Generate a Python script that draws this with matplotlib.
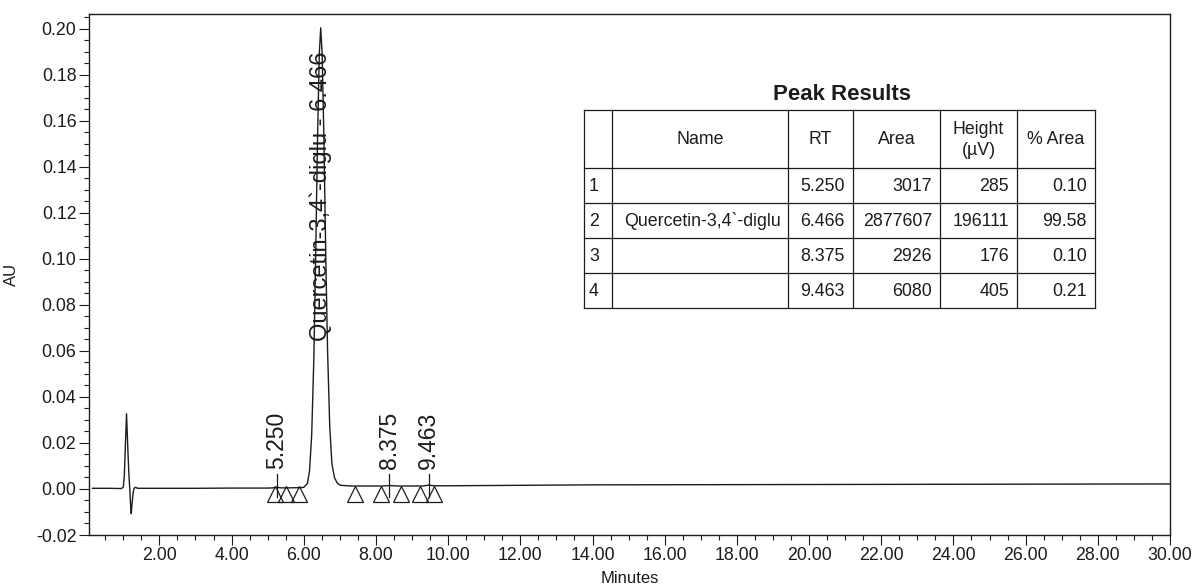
"""
Chromatogram (AU vs minutes) with the Peak Results table, redrawn from a scan.
"""
import matplotlib
matplotlib.use("Agg")
import matplotlib.pyplot as plt
from matplotlib.ticker import MultipleLocator, FuncFormatter

plt.rcParams["font.family"] = ["Liberation Sans", "DejaVu Sans"]

INK = "#1c1c1c"

# --- trace (minutes, AU) ---
trace_min = [0.15, 0.60, 0.95, 1.00, 1.03, 1.06, 1.09, 1.12, 1.15, 1.18,
             1.205, 1.22, 1.24, 1.27, 1.30, 1.34, 1.40, 2.00, 3.00, 4.00,
             5.00, 5.15, 5.25, 5.35, 5.60, 5.90, 6.00, 6.10, 6.16, 6.22,
             6.28, 6.33, 6.38, 6.43, 6.47, 6.51, 6.56, 6.61, 6.66, 6.72,
             6.78, 6.85, 6.93, 7.02, 7.30, 8.20, 8.375, 8.60, 9.30, 9.463,
             9.60, 10.0, 14.0, 18.0, 22.0, 26.0, 30.0]
trace_au = [0.0003, 0.0003, 0.0002, 0.0008, 0.0060, 0.0200, 0.0327, 0.0200, 0.0080, 0.0000,
            -0.0080, -0.0107, -0.0070, -0.0020, 0.0004, 0.0007, 0.0003, 0.0003, 0.0003, 0.0004,
            0.0004, 0.0005, 0.0008, 0.0005, 0.0005, 0.0006, 0.0007, 0.0024, 0.0078, 0.0235,
            0.0570, 0.1010, 0.1510, 0.1890, 0.2005, 0.1890, 0.1510, 0.1010, 0.0600, 0.0270,
            0.0110, 0.0050, 0.0025, 0.0016, 0.0013, 0.0013, 0.0015, 0.0013, 0.0013, 0.0017,
            0.0014, 0.0014, 0.0018, 0.0019, 0.0020, 0.0021, 0.0022]

# integration marks (peak start / end), drawn as open triangles
mark_start = [5.21, 5.88, 8.15, 9.21]
mark_end = [5.52, 7.42, 8.70, 9.62]

# peak labels
peak_rt = [5.250, 6.466, 8.375, 9.463]
peak_label = ["5.250", "Quercetin-3,4`-diglu - 6.466", "8.375", "9.463"]
peak_named = [False, True, False, False]

# Peak Results table
tbl_title = "Peak Results"
tbl_header = ["", "Name", "RT", "Area", "Height\n(µV)", "% Area"]
tbl_no = ["1", "2", "3", "4"]
tbl_name = ["", "Quercetin-3,4`-diglu", "", ""]
tbl_rt = ["5.250", "6.466", "8.375", "9.463"]
tbl_area = ["3017", "2877607", "2926", "6080"]
tbl_height = ["285", "196111", "176", "405"]
tbl_pct = ["0.10", "99.58", "0.10", "0.21"]

W, H = 1195, 588
fig = plt.figure(figsize=(W / 100, H / 100), dpi=100)
ax = fig.add_axes([89 / W, 1 - 535 / H, (1170 - 89) / W, (535 - 14) / H])

ax.plot(trace_min, trace_au, color=INK, lw=1.0, zorder=3)
marks = mark_start + mark_end
ax.plot(marks, [-0.00226] * len(marks), ls="none", marker="^", ms=11.5,
        mfc="none", mec=INK, mew=0.9, zorder=3)

for rt, lab, named in zip(peak_rt, peak_label, peak_named):
    if named:
        ax.text(rt, 0.0645, lab, rotation=90, ha="center", va="bottom",
                fontsize=17, color=INK, zorder=4)
    else:
        ax.plot([rt, rt], [-0.0036, 0.0066], color=INK, lw=0.9, zorder=3)
        ax.text(rt, 0.0086, lab, rotation=90, ha="center", va="bottom",
                fontsize=16.5, color=INK, zorder=4)

ax.set_xlim(0.05, 30.0)
ax.set_ylim(-0.02, 0.2065)
ax.xaxis.set_major_locator(MultipleLocator(2))
ax.xaxis.set_minor_locator(MultipleLocator(0.5))
ax.yaxis.set_major_locator(MultipleLocator(0.02))
ax.yaxis.set_minor_locator(MultipleLocator(0.005))
ax.xaxis.set_major_formatter(FuncFormatter(lambda v, p: f"{v:.2f}"))
ax.yaxis.set_major_formatter(FuncFormatter(lambda v, p: f"{v:.2f}"))
ax.tick_params(which="major", direction="out", length=7, width=0.8,
               color=INK, labelcolor=INK, labelsize=12.8, pad=2)
ax.tick_params(which="minor", direction="out", length=3.8, width=0.8, color=INK)
for sp in ax.spines.values():
    sp.set_color(INK)
    sp.set_linewidth(1.0)
ax.set_xlabel("Minutes", fontsize=12, color=INK, labelpad=5)
ax.set_ylabel("AU", fontsize=12, color=INK, labelpad=12)

# --- table, in figure pixel coordinates ---
tab = fig.add_axes([0, 0, 1, 1], zorder=5)
tab.set_xlim(0, W)
tab.set_ylim(H, 0)
tab.axis("off")
tab.patch.set_alpha(0)

col_x = [584, 612, 788, 853, 940, 1017, 1095]
row_y = [110, 168, 203, 238, 273, 308]
for x in col_x:
    tab.plot([x, x], [row_y[0], row_y[-1]], color=INK, lw=0.9)
for y in row_y:
    tab.plot([col_x[0], col_x[-1]], [y, y], color=INK, lw=0.9)

tab.text((col_x[0] + col_x[-1]) / 2 + 3, 95, tbl_title, ha="center", va="center",
         fontsize=16, fontweight="bold", color=INK)

fs = 12.8
for j, h in enumerate(tbl_header):
    tab.text((col_x[j] + col_x[j + 1]) / 2, (row_y[0] + row_y[1]) / 2 + 1, h,
             ha="center", va="center", fontsize=fs, color=INK, linespacing=1.3)

pad = 8
for i in range(len(tbl_no)):
    yc = (row_y[i + 1] + row_y[i + 2]) / 2 + 1
    tab.text(col_x[0] + 5, yc, tbl_no[i], ha="left", va="center", fontsize=fs, color=INK)
    tab.text((col_x[1] + col_x[2]) / 2 + 3, yc, tbl_name[i], ha="center", va="center",
             fontsize=fs, color=INK)
    for j, vals in zip(range(3, 7), [tbl_rt, tbl_area, tbl_height, tbl_pct]):
        tab.text(col_x[j] - pad, yc, vals[i], ha="right", va="center", fontsize=fs, color=INK)

fig.savefig("out.png", dpi=100)
